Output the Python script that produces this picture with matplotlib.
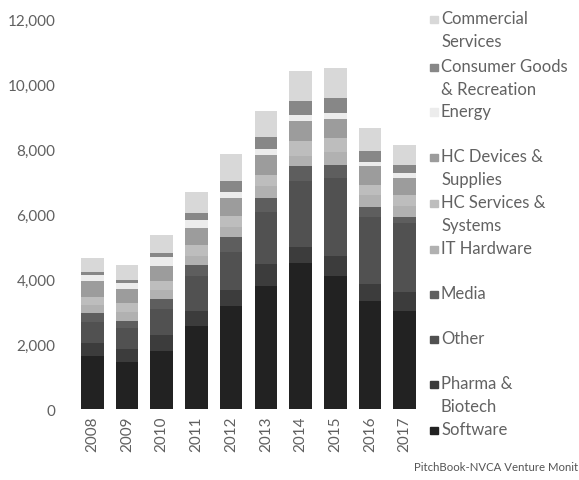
import matplotlib
matplotlib.use("Agg")
import matplotlib.pyplot as plt
from matplotlib.patches import Rectangle
from matplotlib.ticker import FuncFormatter
import numpy as np

plt.rcParams["font.family"] = ["Lato", "DejaVu Sans"]

years = ["2008", "2009", "2010", "2011", "2012", "2013", "2014", "2015", "2016", "2017"]

# Deal counts by sector, stacked from the bottom up
software    = [1620, 1440, 1790, 2540, 3155, 3800, 4500, 4080, 3315, 3005]
pharma      = [410, 410, 500, 490, 515, 675, 475, 635, 535, 605]
other       = [640, 630, 790, 1050, 1175, 1590, 2030, 2380, 2070, 2105]
media       = [280, 240, 320, 350, 455, 435, 460, 400, 310, 205]
it_hardware = [250, 260, 250, 290, 285, 350, 330, 400, 340, 340]
hc_services = [240, 270, 290, 330, 340, 345, 440, 440, 330, 330]
hc_devices  = [510, 440, 470, 510, 555, 615, 615, 585, 565, 515]
energy      = [180, 180, 260, 270, 210, 180, 195, 175, 135, 155]
consumer    = [75, 95, 125, 205, 315, 385, 420, 460, 330, 255]
commercial  = [445, 465, 555, 655, 840, 805, 945, 935, 730, 615]

series = [
    ("Software", software, "#222222"),
    ("Pharma &\nBiotech", pharma, "#3c3c3c"),
    ("Other", other, "#515151"),
    ("Media", media, "#5e5e5e"),
    ("IT Hardware", it_hardware, "#b1b1b1"),
    ("HC Services &\nSystems", hc_services, "#bdbdbd"),
    ("HC Devices &\nSupplies", hc_devices, "#9c9c9c"),
    ("Energy", energy, "#ececec"),
    ("Consumer Goods\n& Recreation", consumer, "#878787"),
    ("Commercial\nServices", commercial, "#d8d8d8"),
]

W, H = 579, 481
fig = plt.figure(figsize=(W / 100, H / 100), dpi=100)
ax = fig.add_axes([75 / W, 1 - 410 / H, (422 - 75) / W, (410 - 20) / H])

x = np.arange(len(years))
bottom = np.zeros(len(years))
for name, vals, color in series:
    v = np.array(vals, dtype=float)
    ax.bar(x, v, bottom=bottom, width=0.65, color=color, linewidth=0)
    bottom += v

ax.set_xlim(-0.5, len(years) - 0.5)
ax.set_ylim(0, 12000)
ax.set_yticks(np.arange(0, 12001, 2000))
ax.yaxis.set_major_formatter(FuncFormatter(lambda v, p: f"{int(v):,}"))
ax.set_xticks(x)
ax.set_xticklabels(years, rotation=90)
ax.tick_params(axis="both", length=0, labelsize=11, colors="#606060")
ax.tick_params(axis="y", pad=14)
ax.tick_params(axis="x", pad=5)
for s in ax.spines.values():
    s.set_visible(False)

# Legend, listed top to bottom in the reverse of the stacking order
legend_y = [20, 68, 113, 158, 204, 250, 295, 340, 385, 431]
for (name, vals, color), yp in zip(series[::-1], legend_y):
    fig.patches.append(Rectangle((430 / W, 1 - (yp + 4) / H), 7.5 / W, 7.5 / H,
                                 transform=fig.transFigure, color=color))
    fig.text(441 / W, 1 - (yp - 9) / H, name, ha="left", va="top",
             fontsize=12, color="#626262", linespacing=1.55)

fig.text(578 / W, 1 - 468 / H, "PitchBook-NVCA Venture Monit", ha="right",
         va="center", fontsize=8.2, color="#555555")

fig.savefig("out.png", dpi=100)
